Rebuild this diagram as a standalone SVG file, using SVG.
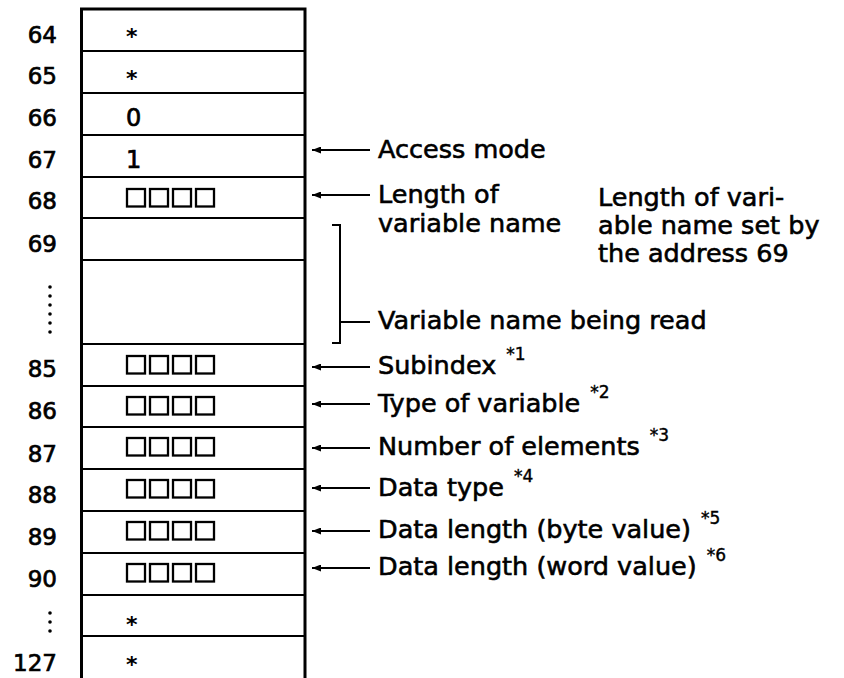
<svg xmlns="http://www.w3.org/2000/svg" width="844" height="678" viewBox="0 0 844 678">
  <defs>
    <style>
      .num { font-family: "DejaVu Sans", "Liberation Sans", sans-serif; font-size: 23px; fill: #000; stroke: #000; stroke-width: 0.7; text-anchor: end; }
      .val { font-family: "DejaVu Sans", "Liberation Sans", sans-serif; font-size: 24px; fill: #000; stroke: #000; stroke-width: 0.7; }
      .ast { font-family: "DejaVu Sans", "Liberation Sans", sans-serif; font-size: 22px; font-weight: bold; fill: #000; }
      .lbl { font-family: "DejaVu Sans", "Liberation Sans", sans-serif; font-size: 25.5px; fill: #000; stroke: #000; stroke-width: 0.6; }
      .sup { font-size: 17px; stroke-width: 0.4; }
      .frame { fill: none; stroke: #000; stroke-width: 3; }
      .rule { stroke: #000; stroke-width: 2.2; }
      .box { fill: none; stroke: #000; stroke-width: 2.3; }
      .conn { fill: none; stroke: #000; stroke-width: 2; }
      .dot { fill: #000; }
    </style>
    <marker id="head" markerUnits="userSpaceOnUse" markerWidth="9" markerHeight="7" refX="9" refY="3.5" orient="auto">
      <path d="M0,0 L9,3.5 L0,7 z" fill="#000"/>
    </marker>
    <!-- four empty digit boxes -->
    <g id="quad">
      <rect class="box" x="127" y="0" width="18" height="17.5"/>
      <rect class="box" x="150" y="0" width="18" height="17.5"/>
      <rect class="box" x="173" y="0" width="18" height="17.5"/>
      <rect class="box" x="196" y="0" width="18" height="17.5"/>
    </g>
  </defs>

  <rect width="844" height="678" fill="#fff"/>

  <!-- memory table frame and row rules -->
  <g id="table">
    <path class="frame" d="M81.5,690 V9 H305 V690"/>
    <g class="rule">
      <line x1="81" y1="51" x2="305" y2="51"/>
      <line x1="81" y1="93" x2="305" y2="93"/>
      <line x1="81" y1="135" x2="305" y2="135"/>
      <line x1="81" y1="177" x2="305" y2="177"/>
      <line x1="81" y1="218" x2="305" y2="218"/>
      <line x1="81" y1="260" x2="305" y2="260"/>
      <line x1="81" y1="344" x2="305" y2="344"/>
      <line x1="81" y1="386" x2="305" y2="386"/>
      <line x1="81" y1="427" x2="305" y2="427"/>
      <line x1="81" y1="469" x2="305" y2="469"/>
      <line x1="81" y1="511" x2="305" y2="511"/>
      <line x1="81" y1="553" x2="305" y2="553"/>
      <line x1="81" y1="595" x2="305" y2="595"/>
      <line x1="81" y1="636" x2="305" y2="636"/>
    </g>
  </g>

  <!-- address numbers -->
  <g id="addresses">
    <text class="num" x="57" y="43">64</text>
    <text class="num" x="57" y="84">65</text>
    <text class="num" x="57" y="126">66</text>
    <text class="num" x="57" y="168">67</text>
    <text class="num" x="57" y="209">68</text>
    <text class="num" x="57" y="252">69</text>
    <g class="dot">
      <circle cx="50" cy="287" r="1.8"/>
      <circle cx="50" cy="296" r="1.8"/>
      <circle cx="50" cy="305" r="1.8"/>
      <circle cx="50" cy="314" r="1.8"/>
      <circle cx="50" cy="323" r="1.8"/>
      <circle cx="50" cy="332" r="1.8"/>
    </g>
    <text class="num" x="57" y="377">85</text>
    <text class="num" x="57" y="419">86</text>
    <text class="num" x="57" y="462">87</text>
    <text class="num" x="57" y="503">88</text>
    <text class="num" x="57" y="545">89</text>
    <text class="num" x="57" y="587">90</text>
    <g class="dot">
      <circle cx="50" cy="613" r="1.8"/>
      <circle cx="50" cy="622" r="1.8"/>
      <circle cx="50" cy="631" r="1.8"/>
    </g>
    <text class="num" x="57" y="671">127</text>
  </g>

  <!-- cell contents -->
  <g id="cells">
    <text class="ast" x="126" y="44">*</text>
    <text class="ast" x="126" y="86">*</text>
    <text class="val" x="126" y="126">0</text>
    <text class="val" x="126" y="168">1</text>
    <use href="#quad" y="189"/>
    <use href="#quad" y="356"/>
    <use href="#quad" y="397"/>
    <use href="#quad" y="438"/>
    <use href="#quad" y="480"/>
    <use href="#quad" y="522"/>
    <use href="#quad" y="564"/>
    <text class="ast" x="126" y="632">*</text>
    <text class="ast" x="126" y="672">*</text>
  </g>

  <!-- leader arrows and bracket -->
  <g id="connectors">
    <line class="conn" x1="370" y1="150" x2="312" y2="150" marker-end="url(#head)"/>
    <line class="conn" x1="370" y1="195" x2="312" y2="195" marker-end="url(#head)"/>
    <path class="conn" d="M332,225 H340 V343 H332 M340,322 H370"/>
    <line class="conn" x1="370" y1="367" x2="312" y2="367" marker-end="url(#head)"/>
    <line class="conn" x1="370" y1="404" x2="312" y2="404" marker-end="url(#head)"/>
    <line class="conn" x1="370" y1="448" x2="312" y2="448" marker-end="url(#head)"/>
    <line class="conn" x1="370" y1="488" x2="312" y2="488" marker-end="url(#head)"/>
    <line class="conn" x1="370" y1="531" x2="312" y2="531" marker-end="url(#head)"/>
    <line class="conn" x1="370" y1="568" x2="312" y2="568" marker-end="url(#head)"/>
  </g>

  <!-- field descriptions -->
  <g id="labels">
    <text class="lbl" x="378" y="158">Access mode</text>
    <text class="lbl" x="378" y="203">Length of</text>
    <text class="lbl" x="378" y="232">variable name</text>
    <text class="lbl" x="598" y="206">Length of vari-</text>
    <text class="lbl" x="598" y="234">able name set by</text>
    <text class="lbl" x="598" y="262">the address 69</text>
    <text class="lbl" x="378" y="329">Variable name being read</text>
    <text class="lbl" x="378" y="374">Subindex<tspan class="sup" dx="10" dy="-14">*1</tspan></text>
    <text class="lbl" x="378" y="412">Type of variable<tspan class="sup" dx="10" dy="-14">*2</tspan></text>
    <text class="lbl" x="378" y="455">Number of elements<tspan class="sup" dx="10" dy="-14">*3</tspan></text>
    <text class="lbl" x="378" y="496">Data type<tspan class="sup" dx="10" dy="-14">*4</tspan></text>
    <text class="lbl" x="378" y="538">Data length (byte value)<tspan class="sup" dx="10" dy="-14">*5</tspan></text>
    <text class="lbl" x="378" y="575">Data length (word value)<tspan class="sup" dx="10" dy="-14">*6</tspan></text>
  </g>
</svg>
